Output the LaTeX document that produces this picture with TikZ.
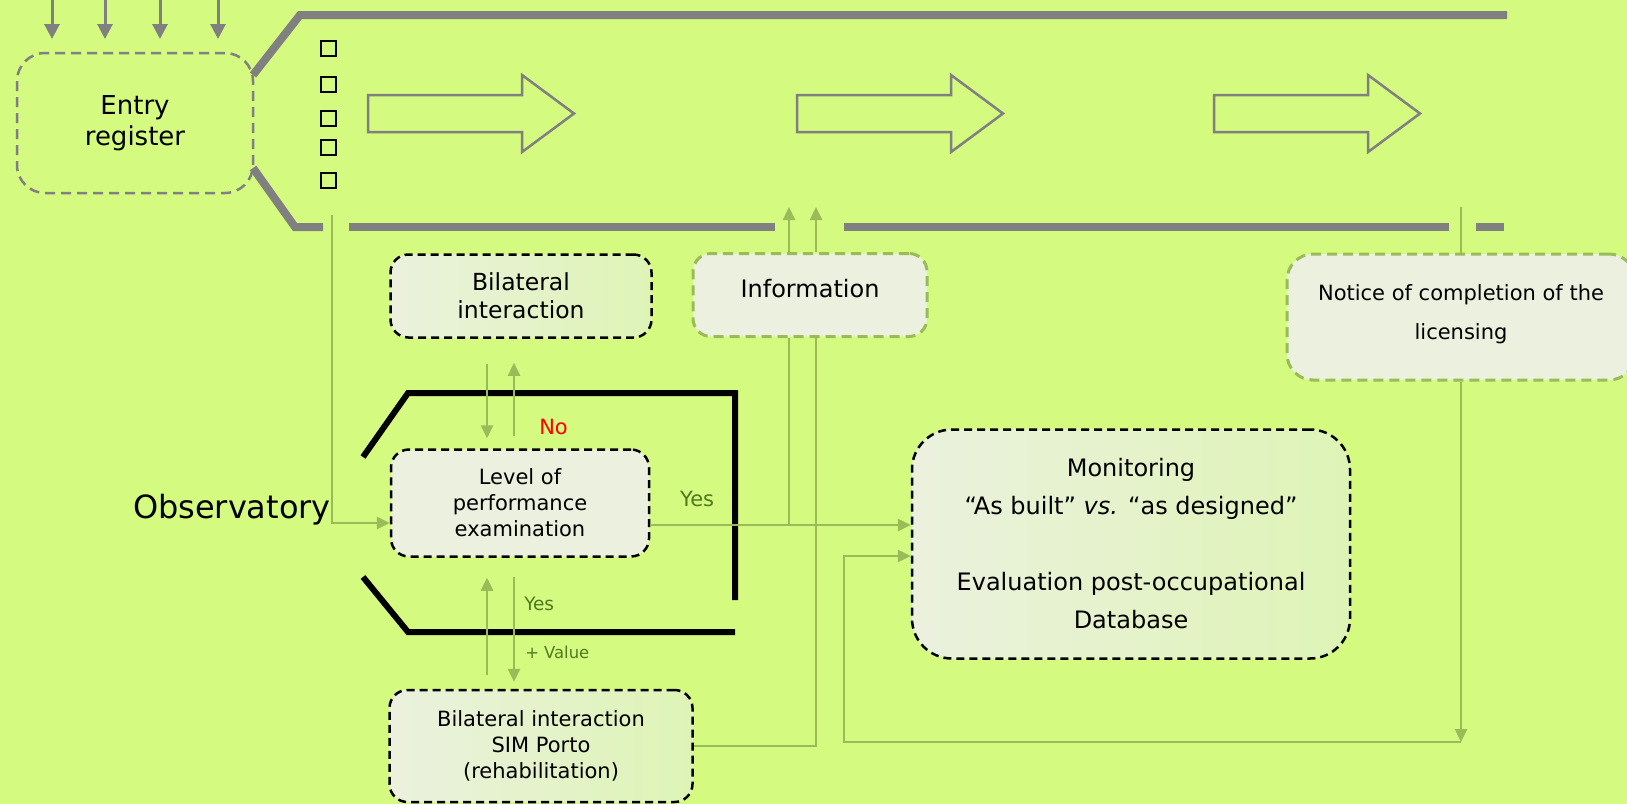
\documentclass[tikz,border=0pt]{standalone}
\usepackage{fontspec}
\setmainfont{DejaVu Sans}
\usepackage{tikz}
\usetikzlibrary{arrows.meta,positioning,calc}

\definecolor{bglime}{RGB}{213,250,128}
\definecolor{pipegrey}{RGB}{128,128,128}
\definecolor{olive}{RGB}{155,187,89}
\definecolor{boxfill}{RGB}{235,241,222}
\definecolor{boxlime}{RGB}{222,244,182}
\definecolor{yesgreen}{RGB}{79,122,30}

\begin{document}
\begin{tikzpicture}[
    x=1pt, y=-1pt,
    every node/.style={inner sep=0pt, align=center},
    entrybox/.style={rectangle, draw=pipegrey, dash pattern=on 10pt off 6pt, line width=2.5pt, rounded corners=28pt},
    darkbox/.style={rectangle, draw=black, dash pattern=on 8pt off 5pt, line width=2.5pt, fill=boxfill, rounded corners=18pt},
    limebox/.style={darkbox, left color=boxfill, right color=boxlime},
    greenbox/.style={rectangle, draw=olive, dash pattern=on 10pt off 6pt, line width=3pt, fill=boxfill, rounded corners=18pt},
    pipe/.style={draw=pipegrey, line width=8pt},
    blockarrow/.style={draw=pipegrey, line width=2.5pt, line join=miter},
    downtick/.style={draw=pipegrey, line width=3pt, -{Triangle[length=15pt,width=15pt]}},
    bracket/.style={draw=black, line width=6pt},
    link/.style={draw=olive, line width=2.5pt},
    flow/.style={link, -{Triangle[length=13pt,width=12pt]}},
    yeslabel/.style={text=yesgreen}
]

% background and page size
\path[use as bounding box, fill=bglime] (0,0) rectangle (1627,804);

% process pipe
\draw[pipe] (253,75) -- (300,15) -- (1507,15);
\draw[pipe] (253,168) -- (295,227) -- (323,227);
\draw[pipe] (349,227) -- (775,227);
\draw[pipe] (844,227) -- (1449,227);
\draw[pipe] (1476,227) -- (1504,227);

\foreach \x in {52,105,160,218}
    \draw[downtick] (\x,0) -- (\x,39);

\foreach \x in {368,797,1214}
    \draw[blockarrow] (\x,95) -- ++(154,0) -- ++(0,-20) -- ++(52,38.5) -- ++(-52,38.5) -- ++(0,-20) -- ++(-154,0) -- cycle;

\foreach \y in {48,84,118,147,180}
    \draw[black, line width=2pt] (321,\y-7.5) rectangle ++(15,15);

% observatory bracket
\draw[bracket] (363,457) -- (408,393) -- (735,393) -- (735,600);
\draw[bracket] (363,577) -- (408,632) -- (735,632);

% boxes
\node[entrybox, minimum width=236pt, minimum height=140pt, font=\fontsize{26}{31}\selectfont] (entry) at (135,123) {Entry\\register};
\node[limebox, minimum width=261pt, minimum height=83pt, font=\fontsize{23.5}{28}\selectfont] (bilat) at (521,296) {Bilateral\\interaction};
\node[greenbox, minimum width=234pt, minimum height=83pt, font=\fontsize{24}{29}\selectfont] (info) at (810,295) {Information\\[-15pt]};
\node[greenbox, minimum width=348pt, minimum height=126pt, rounded corners=26pt, font=\fontsize{21}{39}\selectfont] (notice) at (1461,317) {Notice of completion of the\\licensing\\[-29pt]};
\node[darkbox, minimum width=258pt, minimum height=107pt, font=\fontsize{21}{26}\selectfont] (level) at (520,503) {Level of\\performance\\examination};
\node[limebox, minimum width=438pt, minimum height=229pt, rounded corners=40pt, font=\fontsize{24}{38}\selectfont] (mon) at (1131,544) {Monitoring\\\textquotedblleft As built\textquotedblright{} \textit{vs.} \textquotedblleft as designed\textquotedblright\\[38pt]Evaluation post-occupational\\Database};
\node[limebox, minimum width=303pt, minimum height=112pt, font=\fontsize{21}{26}\selectfont] (sim) at (541,746) {Bilateral interaction\\SIM Porto\\(rehabilitation)};
\node[anchor=east, font=\fontsize{32}{38}\selectfont] (obs) at (331,510) {Observatory};

% connectors
\coordinate (entrytap) at (332,215);
\coordinate (entryrow) at (0,523);
\coordinate (yesrow) at (0,525);
\coordinate (leftlane) at (487,0);
\coordinate (rightlane) at (514,0);
\coordinate (infoL) at (789,207);
\coordinate (infoR) at (816,207);
\coordinate (noticetop) at (1461,207);
\coordinate (loopcorner) at (1461,742);
\coordinate (loopleft) at (844,742);
\coordinate (looprow) at (0,556);

\draw[flow] (entrytap) |- (level.west |- entryrow);
\draw[flow, shorten <=25pt, shorten >=10pt] (bilat.south -| leftlane) -- (level.north -| leftlane);
\draw[flow, shorten <=12pt, shorten >=24pt] (level.north -| rightlane) -- node[pos=0.19, right=24pt, text=red, font=\fontsize{21}{25}\selectfont] {No} (bilat.south -| rightlane);
\draw[flow, shorten <=14pt, shorten >=20pt] (sim.north -| leftlane) -- (level.south -| leftlane);
\draw[flow, shorten <=19pt, shorten >=7pt] (level.south -| rightlane) -- node[pos=0.35, right=9pt, yeslabel, font=\fontsize{18.5}{22}\selectfont] {Yes} node[pos=0.72, right=10pt, yeslabel, font=\fontsize{16.4}{20}\selectfont] {+ Value} (sim.north -| rightlane);
\draw[flow] (level.east |- yesrow) -- node[pos=0.18, above=17pt, yeslabel, font=\fontsize{21}{25}\selectfont] {Yes} (mon.west |- yesrow);
\draw[flow] (info.north -| infoL) -- (infoL);
\draw[flow] (info.north -| infoR) -- (infoR);
\draw[link] (info.south -| infoL) -- (infoL |- yesrow);
\draw[link] (sim.east) -| (info.south -| infoR);
\draw[link] (notice.north) -- (noticetop);
\draw[flow] (notice.south) -- (loopcorner);
\draw[flow] (loopcorner) -- (loopleft) |- (mon.west |- looprow);

\end{tikzpicture}
\end{document}
